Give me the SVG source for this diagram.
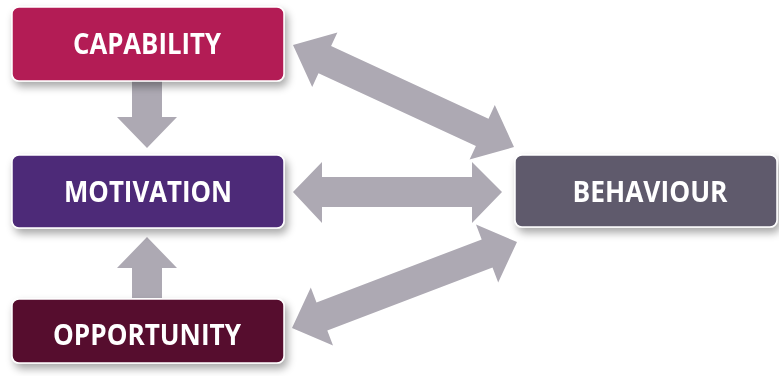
<svg xmlns="http://www.w3.org/2000/svg" width="779" height="376" viewBox="0 0 779 376">
<defs>
<filter id="sh" x="-10%" y="-20%" width="125%" height="160%">
<feGaussianBlur in="SourceAlpha" stdDeviation="4"/>
<feOffset dx="3" dy="5" result="b"/>
<feComponentTransfer><feFuncA type="linear" slope="0.35"/></feComponentTransfer>
<feMerge><feMergeNode/><feMergeNode in="SourceGraphic"/></feMerge>
</filter>
<style>
.lbl{font-family:"Open Sans","Noto Sans","DejaVu Sans",sans-serif;font-weight:700;font-size:28px;fill:#ffffff;text-anchor:middle}
.arr{fill:#ada9b3}
.box{stroke:#ffffff;stroke-width:1.5}
</style>
</defs>
<rect width="779" height="376" fill="#ffffff"/>
<g id="connectors">
<polygon class="arr" points="132,80 162,80 162,117 177,117 147,148 117,117 132,117"/>
<polygon class="arr" points="132,298 162,298 162,268 177,268 147,237 117,268 132,268"/>
<polygon class="arr" points="293,192 322,162 322,177 472,177 472,162 502,192 472,223 472,207 322,207 322,223"/>
<polygon class="arr" points="293,45 337.4,32.4 331.1,46.1 488.5,118.7 494.8,105 514,147 469.6,159.6 475.9,145.9 318.5,73.3 312.2,87"/>
<polygon class="arr" points="292,328 310.8,287.6 316.5,302.6 481.7,239.4 476,224.4 517,242 498.2,282.4 492.5,267.4 327.3,330.6 333,345.6"/>
</g>
<g id="capability" filter="url(#sh)">
<rect class="box" x="12" y="7" width="272" height="74" rx="7" fill="#b31c55"/>
<text class="lbl" x="147" y="54" textLength="148" lengthAdjust="spacingAndGlyphs">CAPABILITY</text>
</g>
<g id="motivation" filter="url(#sh)">
<rect class="box" x="12" y="155" width="272" height="73" rx="7" fill="#4e2a78"/>
<text class="lbl" x="148" y="202" textLength="168" lengthAdjust="spacingAndGlyphs">MOTIVATION</text>
</g>
<g id="opportunity" filter="url(#sh)">
<rect class="box" x="12" y="299" width="272" height="64" rx="7" fill="#560b2d"/>
<text class="lbl" x="147" y="345" textLength="188" lengthAdjust="spacingAndGlyphs">OPPORTUNITY</text>
</g>
<g id="behaviour" filter="url(#sh)">
<rect class="box" x="515" y="155" width="262" height="72" rx="7" fill="#5e5a6c"/>
<text class="lbl" x="650" y="202" textLength="155" lengthAdjust="spacingAndGlyphs">BEHAVIOUR</text>
</g>
</svg>
